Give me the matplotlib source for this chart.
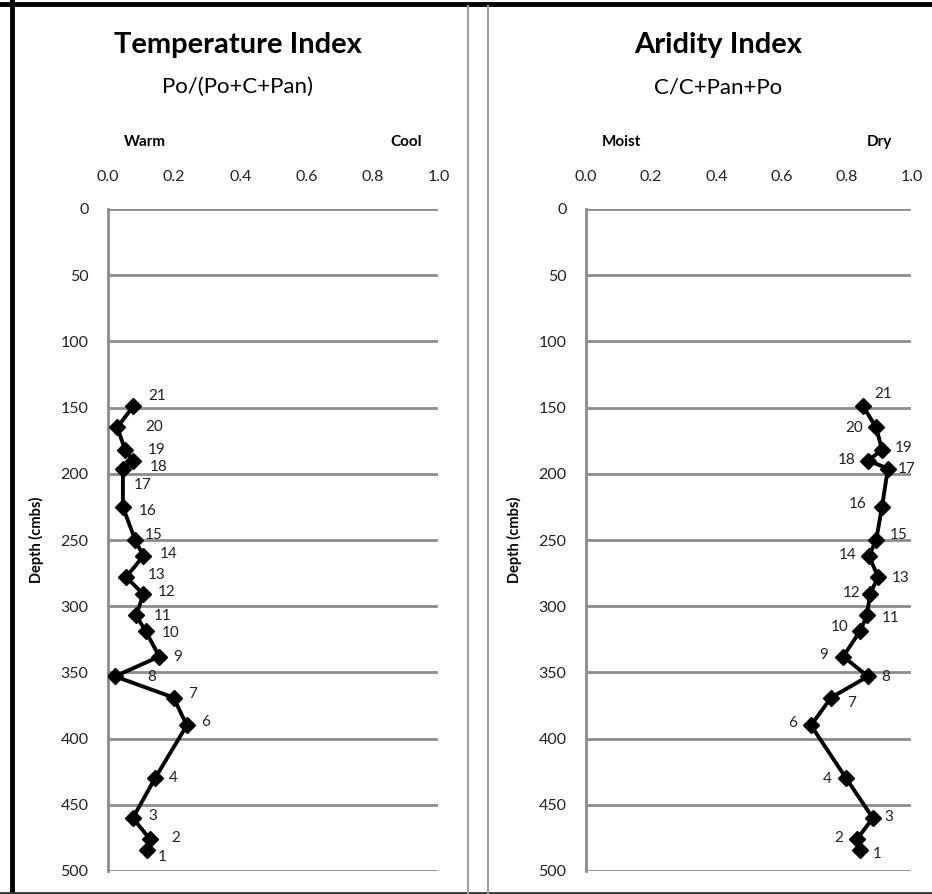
import matplotlib
matplotlib.use('Agg')
import matplotlib.pyplot as plt
from matplotlib.lines import Line2D

plt.rcParams['font.family'] = ['Lato', 'DejaVu Sans']

# sample numbers (no sample 5) and depths in cmbs
samples = [21, 20, 19, 18, 17, 16, 15, 14, 13, 12, 11, 10, 9, 8, 7, 6, 4, 3, 2, 1]
depth = [149, 165, 182, 190, 196, 225, 250, 262, 278, 291, 307, 319, 338, 353,
         369, 390, 430, 460, 476, 484]

# Po/(Po+C+Pan)
temp_index = [0.076, 0.028, 0.052, 0.076, 0.045, 0.045, 0.082, 0.107, 0.055, 0.107,
              0.085, 0.114, 0.155, 0.021, 0.198, 0.238, 0.142, 0.075, 0.127, 0.117]
# C/C+Pan+Po
arid_index = [0.850, 0.890, 0.908, 0.865, 0.926, 0.908, 0.890, 0.868, 0.896, 0.871,
              0.862, 0.840, 0.789, 0.865, 0.752, 0.690, 0.798, 0.880, 0.831, 0.840]

x_ticks = [0.0, 0.2, 0.4, 0.6, 0.8, 1.0]
y_ticks = list(range(0, 501, 50))

# label offsets (pixels) next to each marker
temp_off = [(24, 10), (37, 0), (31, 0), (26, -6), (20, -16), (25, -4), (19, 5), (25, 2),
            (30, 2), (23, 2), (27, -1), (25, -2), (18, 0), (37, -1), (19, 4), (19, 3),
            (18, 0), (20, 2), (26, 1), (15, -7)]
arid_off = [(20, 12), (-22, -1), (22, 2), (-21, 1), (19, 0), (-24, 3), (23, 5), (-21, 1),
            (23, -1), (-18, 1), (24, -3), (-20, 4), (-20, 2), (18, -1), (20, -5), (-18, 2),
            (-19, -1), (16, 1), (-18, 1), (17, -4)]

W, H = 932, 894
fig = plt.figure(figsize=(W / 100, H / 100), dpi=100)

grid_c = '#8c8c8c'


def panel(left, width, values, offsets, title, subtitle, lo, hi, cx):
    ax = fig.add_axes([left / W, 1 - 871 / H, width / W, 662 / H])
    ax.plot(values, depth, color='black', lw=2.8, marker='D', ms=8.5,
            markeredgecolor='black', markerfacecolor='black', zorder=3)
    for v, d, s, (dx, dy) in zip(values, depth, samples, offsets):
        ax.annotate(str(s), (v, d), xytext=(dx, dy), textcoords='offset pixels',
                    ha='center', va='center', fontsize=11, color='#222222')
    ax.set_xlim(0, 1)
    ax.set_ylim(500, 0)
    ax.set_xticks(x_ticks)
    ax.set_xticklabels(['%.1f' % t for t in x_ticks])
    ax.set_yticks(y_ticks)
    ax.xaxis.tick_top()
    ax.tick_params(length=0, labelsize=11.5, colors='#222222')
    ax.tick_params(axis='x', pad=18)
    ax.tick_params(axis='y', pad=14)
    for t in y_ticks:
        ax.axhline(t, xmin=0, xmax=0.992, color=grid_c, lw=2, zorder=1)
    for s in ['top', 'right', 'bottom']:
        ax.spines[s].set_visible(False)
    ax.spines['left'].set_color(grid_c)
    ax.spines['left'].set_linewidth(2)
    ax.set_ylabel('Depth (cmbs)', fontsize=10.5, fontweight='bold', labelpad=12)
    fig.text(cx / W, 1 - 45 / H, title, ha='center', va='center',
             fontsize=21, fontweight='bold')
    fig.text(cx / W, 1 - 87 / H, subtitle, ha='center', va='center', fontsize=16)
    fig.text((left + 0.11 * width) / W, 1 - 142 / H, lo, ha='center', va='center',
             fontsize=11, fontweight='bold')
    fig.text((left + 0.9 * width) / W, 1 - 142 / H, hi, ha='center', va='center',
             fontsize=11, fontweight='bold')
    return ax


panel(108, 331, temp_index, temp_off, 'Temperature Index', 'Po/(Po+C+Pan)',
      'Warm', 'Cool', 238)
panel(586, 326, arid_index, arid_off, 'Aridity Index', 'C/C+Pan+Po',
      'Moist', 'Dry', 718)

# frame lines around the picture
def fline(x0, y0, x1, y1, c, lw):
    fig.add_artist(Line2D([x0 / W, x1 / W], [1 - y0 / H, 1 - y1 / H],
                          transform=fig.transFigure, color=c, lw=lw))


fline(0, 4, W, 4, 'black', 3.5)
fline(12, 0, 12, H, 'black', 3.5)
fline(0, 893, W, 893, '#333333', 2)
fline(468, 6, 468, H, '#a0a0a0', 1.5)
fline(488, 6, 488, H, '#a0a0a0', 1.5)

fig.savefig('out.png', dpi=100)
